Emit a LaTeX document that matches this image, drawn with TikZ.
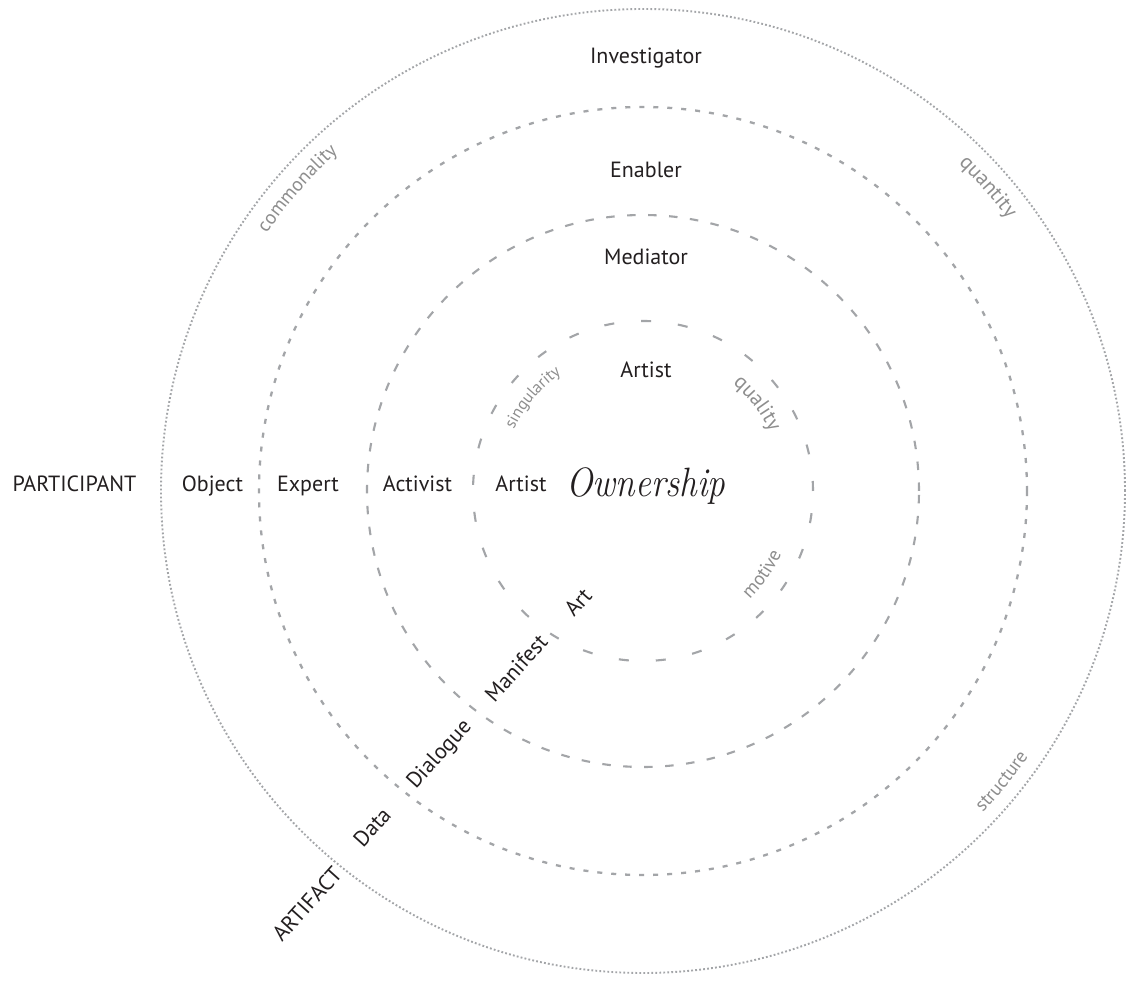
\documentclass[tikz,border=0pt]{standalone}
\usepackage{fontspec}
\newfontfamily\sans{PT Sans}
\usetikzlibrary{decorations.text}
\definecolor{txt}{HTML}{231F20}
\definecolor{ringgray}{HTML}{A3A5A8}
\definecolor{lblgray}{HTML}{8E8E8E}
\newcommand\cfa{\sans\fontsize{19.5}{19.5}\selectfont\color{lblgray}}
\newcommand\cfb{\sans\fontsize{16.5}{16.5}\selectfont\color{lblgray}}
\newcommand\cfc{\sans\fontsize{21}{21}\selectfont\color{lblgray}}
\newcommand\cfd{\sans\fontsize{19}{19}\selectfont\color{lblgray}}
\tikzset{
  lbl/.style={font=\sans\fontsize{22}{22}\selectfont, text=txt, inner sep=0pt, anchor=base},
  dlbl/.style={font=\sans\fontsize{22}{22}\selectfont, text=txt, inner sep=0pt, rotate=48},
  ringA/.style={draw=ringgray, line width=1.9pt, dash pattern=on 1.8pt off 2.2pt},
  ringB/.style={draw=ringgray, line width=2.3pt, dash pattern=on 5pt off 9pt},
  ringC/.style={draw=ringgray, line width=2.1pt, dash pattern=on 8.5pt off 12.5pt},
  ringD/.style={draw=ringgray, line width=2.1pt, dash pattern=on 10pt off 27pt},
}
\begin{document}
\begin{tikzpicture}[x=1pt,y=1pt]
\useasboundingbox[fill=white] (-643,-490) rectangle (485,491);
\coordinate (c) at (0,0);
% rings
\draw[ringA] (c) circle[radius=482pt];
\draw[ringB] (c) circle[radius=384pt];
\draw[ringC] (c) circle[radius=276pt];
\draw[ringD] (c) circle[radius=170pt];
% vertical column
\node[lbl] (investigator) at (3,427) {Investigator};
\node[lbl] (enabler) at (3,313) {Enabler};
\node[lbl] (mediator) at (3,226) {Mediator};
\node[lbl] (artisttop) at (3,113) {Artist};
\node[anchor=base, inner sep=0pt, text=txt] (ownership) at (3,-6)
  {\scalebox{0.86}[1]{\fontsize{41}{41}\selectfont\itshape Ownership}};
% horizontal row
\node[lbl] (participant) at (-568.5,-1) {PARTICIPANT};
\node[lbl] (object) at (-430.5,-1) {Object};
\node[lbl] (expert) at (-335,-1) {Expert};
\node[lbl] (activist) at (-225.5,-1) {Activist};
\node[lbl] (artistleft) at (-122,-1) {Artist};
% diagonal
\node[dlbl] (art) at (-65,-111) {Art};
\node[dlbl] (manifest) at (-127,-177) {Manifest};
\node[dlbl] (dialogue) at (-203,-264) {Dialogue};
\node[dlbl] (data) at (-271,-336) {Data};
\node[dlbl] (artifact) at (-336,-413) {ARTIFACT};
% curved labels, outer ring
\path[decorate,decoration={text along path,text align=center,text={|\cfa|commonality}}]
  (163.8:456) arc[start angle=163.8,end angle=113.8,radius=456];
\path[decorate,decoration={text along path,text align=center,text={|\cfc|quantity}}]
  (66.4:455) arc[start angle=66.4,end angle=16.4,radius=455];
\path[decorate,decoration={text along path,text align=center,text={|\cfd|structure}}]
  (-64:468) arc[start angle=-64,end angle=-14,radius=468];
% curved labels, inner ring
\path[decorate,decoration={text along path,text align=center,text={|\cfb|singularity}}]
  (184.7:143) arc[start angle=184.7,end angle=94.7,radius=143];
\path[decorate,decoration={text along path,text align=center,text={|\cfc|quality}}]
  (82.5:140) arc[start angle=82.5,end angle=-7.5,radius=140];
\path[decorate,decoration={text along path,text align=center,text={|\cfd|motive}}]
  (-79.8:152) arc[start angle=-79.8,end angle=10.2,radius=152];
\end{tikzpicture}
\end{document}
